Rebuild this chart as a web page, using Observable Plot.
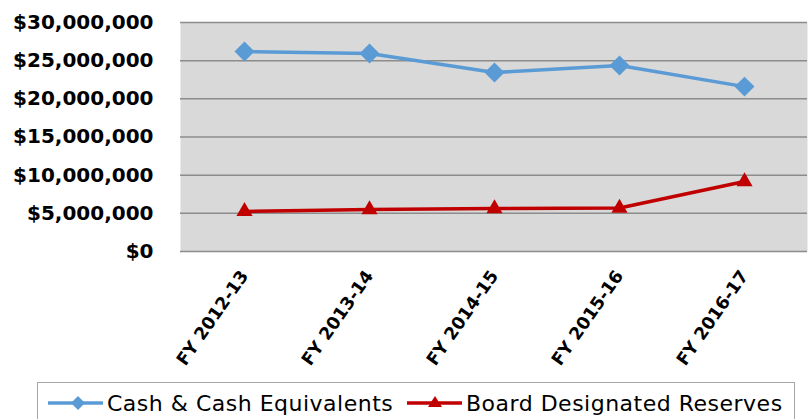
<!DOCTYPE html>
<html>
<head>
<meta charset="utf-8">
<script src="https://cdn.jsdelivr.net/npm/d3@7"></script>
<script src="https://cdn.jsdelivr.net/npm/@observablehq/plot@0.6"></script>
<style>
  html, body { margin: 0; padding: 0; background: #fff; width: 809px; height: 419px; overflow: hidden; }
  #wrap { position: relative; width: 809px; height: 419px; }
  #legend { position: absolute; left: 37px; top: 382px; width: 758px; height: 44px; border: 1px solid #a6a6a6; box-sizing: border-box; font-family: "DejaVu Sans", sans-serif; font-size: 22px; letter-spacing: 0.5px; color: #000; }
  #legend .item { position: absolute; top: 7px; display: flex; align-items: center; white-space: nowrap; height: 26px; }
  #legend svg { margin-right: 4px; }
</style>
</head>
<body>
<div id="wrap">
  <div id="chart"></div>
  <div id="legend"></div>
</div>
<script>
const years = ["FY 2012-13", "FY 2013-14", "FY 2014-15", "FY 2015-16", "FY 2016-17"];
const cash = [26200000, 25950000, 23450000, 24370000, 21600000];
const board = [5250000, 5500000, 5630000, 5700000, 9170000];
const seriesNames = ["Cash & Cash Equivalents", "Board Designated Reserves"];
const seriesColors = ["#5b9bd5", "#c00000"];
const yTicks = [0, 5000000, 10000000, 15000000, 20000000, 25000000, 30000000];

const data = [];
years.forEach((y, i) => {
  data.push({year: y, value: cash[i], series: seriesNames[0]});
  data.push({year: y, value: board[i], series: seriesNames[1]});
});
const cashData = data.filter(d => d.series === seriesNames[0]);
const boardData = data.filter(d => d.series === seriesNames[1]);

const chart = Plot.plot({
  width: 809,
  height: 380,
  marginTop: 22,
  marginBottom: 129,
  marginLeft: 180,
  marginRight: 2,
  style: {background: "transparent", overflow: "visible"},
  x: {type: "point", domain: years, padding: 0.5, label: null},
  y: {domain: [0, 30000000], label: null},
  marks: [
    Plot.frame({fill: "#d9d9d9", stroke: null}),
    Plot.ruleY(yTicks, {stroke: "#8c8c8c", strokeWidth: 1.5}),
    Plot.axisY({ticks: yTicks, tickFormat: d3.format("$,"), tickSize: 0, tickPadding: 27, fontSize: 20, fontWeight: "bold", fontFamily: "DejaVu Sans", fill: "#000", label: null}),
    Plot.axisX({tickSize: 0, tickRotate: -55, tickPadding: 21, fontSize: 17.5, fontWeight: "bold", fontFamily: "DejaVu Sans", fill: "#000", label: null}),
    Plot.line(cashData, {x: "year", y: "value", stroke: seriesColors[0], strokeWidth: 3.5}),
    Plot.line(boardData, {x: "year", y: "value", stroke: seriesColors[1], strokeWidth: 3.5}),
    Plot.dot(cashData, {x: "year", y: "value", symbol: "diamond2", r: 9, fill: seriesColors[0], stroke: null}),
    Plot.dot(boardData, {x: "year", y: "value", symbol: "triangle", r: 6, fill: seriesColors[1], stroke: null})
  ]
});
document.getElementById("chart").appendChild(chart);

const legend = document.getElementById("legend");
const symbols = ["diamond", "triangle"];
const itemLeft = [10, 369];
seriesNames.forEach((name, i) => {
  const item = document.createElement("div");
  item.className = "item";
  item.style.left = itemLeft[i] + "px";
  const shape = symbols[i] === "diamond"
    ? '<polygon points="30,6 37,13 30,20 23,13" fill="' + seriesColors[i] + '"/>'
    : '<polygon points="28,6 35,17 21,17" fill="' + seriesColors[i] + '"/>';
  item.innerHTML = '<svg width="55" height="26"><line x1="0" x2="55" y1="13" y2="13" stroke="' + seriesColors[i] + '" stroke-width="3.5"/>' + shape + '</svg><span>' + name + '</span>';
  legend.appendChild(item);
});
</script>
</body>
</html>
